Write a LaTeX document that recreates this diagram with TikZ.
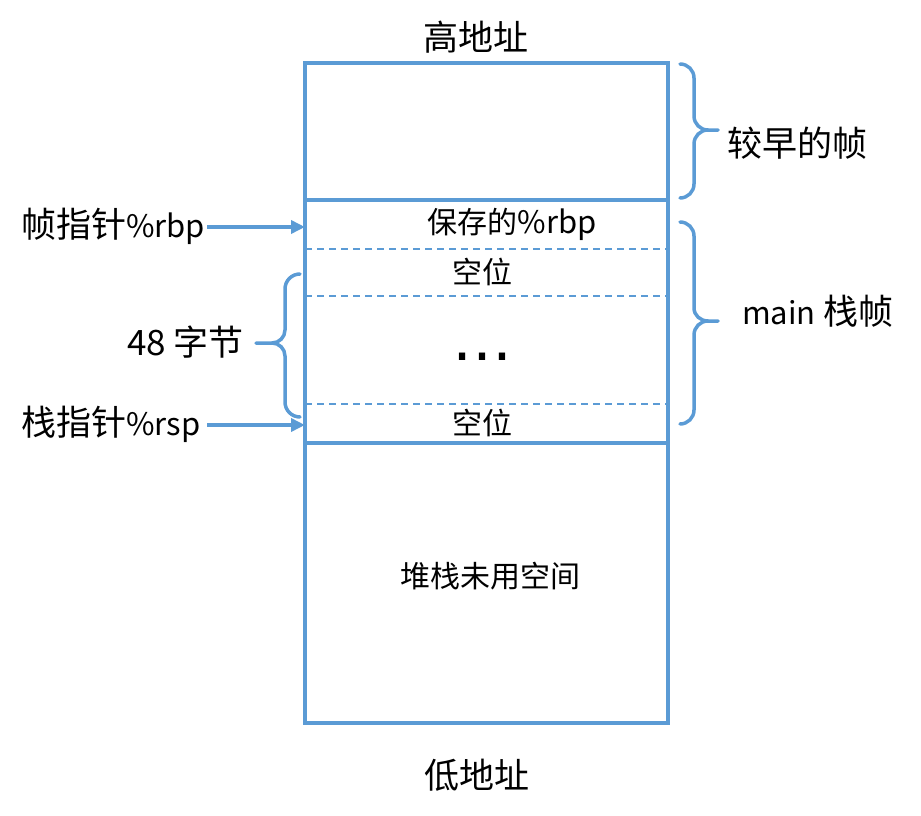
\documentclass[tikz,border=0pt]{standalone}
\usepackage{fontspec}
\setmainfont{Noto Sans CJK SC}
\newfontfamily\dotfont{DejaVu Sans}
\usetikzlibrary{arrows.meta}
\definecolor{lineblue}{HTML}{5B9BD5}
\newcommand{\latsm}{\fontsize{31}{36}\selectfont}
\tikzset{
  big/.style={font=\fontsize{35}{40}\selectfont, inner sep=1pt},
  small/.style={font=\fontsize{30}{34}\selectfont, inner sep=1pt},
  boxline/.style={draw=lineblue, line width=3.5pt},
  dashline/.style={draw=lineblue, line width=1.5pt, dash pattern=on 7pt off 5pt},
  bracestyle/.style={draw=lineblue, line width=3.5pt, line cap=round},
  arr/.style={draw=lineblue, line width=3.5pt, -{Triangle[length=14pt,width=13pt]}},
}
\begin{document}
\begin{tikzpicture}[x=1pt,y=-1pt]
\useasboundingbox (0,0) rectangle (921,816);
% box
\coordinate (tl) at (305,63);
\coordinate (br) at (668,723);
\draw[boxline] (tl) rectangle (br);
\draw[boxline] (305,200) -- (668,200);
\draw[boxline] (305,443) -- (668,443);
\draw[dashline] (305,249) -- (668,249);
\draw[dashline] (305,296) -- (668,296);
\draw[dashline] (305,404) -- (668,404);
% texts
\node[big] (high) at (476,37) {高地址};
\node[big] (low) at (477,775) {低地址};
\node[small] (saved) at (512,224) {保存的{\latsm\%rbp}};
\node[small] (empty1) at (482,272) {空位};
\node[font=\fontsize{60}{60}\dotfont, inner sep=0pt, anchor=base] (dots) at (482,360) {…};
\node[small] (empty2) at (482,423) {空位};
\node[small] (heap) at (490,576) {堆栈未用空间};
% left labels and arrows
\node[big, anchor=west] (rbplbl) at (20,226) {帧指针{\latsm\%rbp}};
\node[big, anchor=west] (rsplbl) at (20,424) {栈指针{\latsm\%rsp}};
\coordinate (rbpin) at (305,227);
\coordinate (rspin) at (305,425);
\coordinate (rbpout) at (207,227);
\coordinate (rspout) at (207,425);
\draw[arr] (rbpout) -- (rbpin);
\draw[arr] (rspout) -- (rspin);
% right braces
\draw[bracestyle] (680,64) to[out=0,in=90] (694,78) -- (694,116) to[out=-90,in=180] (708,130) -- (718,130);
\draw[bracestyle] (708,130) to[out=180,in=90] (694,144) -- (694,184) to[out=-90,in=0] (680,198);
\node[big, anchor=west] (earlier) at (726,143) {较早的帧};
\draw[bracestyle] (680,222) to[out=0,in=90] (694,236) -- (694,308) to[out=-90,in=180] (708,321) -- (718,321);
\draw[bracestyle] (708,321) to[out=180,in=90] (694,335) -- (694,410) to[out=-90,in=0] (680,424);
\node[big, anchor=west] (mainlbl) at (741,311) {{\latsm main} 栈帧};
% left brace
\draw[bracestyle] (300,274) to[out=180,in=90] (285,289) -- (285,330) to[out=-90,in=0] (272,343) -- (256,343);
\draw[bracestyle] (272,343) to[out=0,in=90] (285,356) -- (285,402) to[out=-90,in=180] (300,417);
\node[big, anchor=east] (bytes) at (245,342) {48 字节};
\end{tikzpicture}
\end{document}
